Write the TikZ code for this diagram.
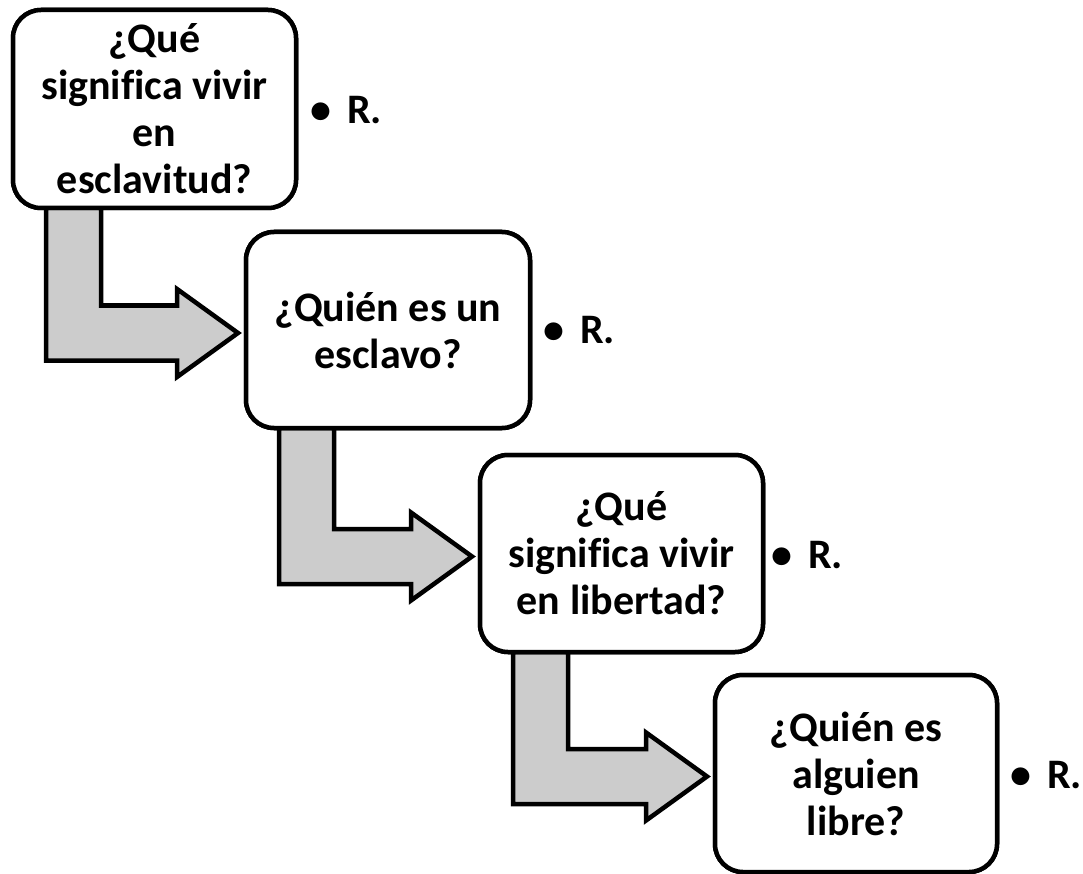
\documentclass[tikz,border=0pt]{standalone}
\usepackage{fontspec}
\setmainfont[Ligatures=NoCommon]{Carlito}
\usetikzlibrary{calc}
\tikzset{
  qbox/.style={draw=black, line width=4.5pt, rounded corners=28pt, fill=white,
    outer sep=0pt, inner sep=0pt, align=center, font=\bfseries\fontsize{42}{47}\selectfont},
  arrowfill/.style={draw=black, fill=black!20, line width=4.5pt, line join=miter},
  rlabel/.style={anchor=west, inner sep=0pt, font=\bfseries\fontsize{42}{47}\selectfont}
}
\newcommand\bentarrow[2]{%
  \path[arrowfill] let \p1=(#1.south west), \p2=(#2.west) in
    (\x1+33pt,\y1) -- (\x1+88pt,\y1) -- (\x1+88pt,\y2+24.5pt)
    -- (\x2-69pt,\y2+24.5pt) -- (\x2-69pt,\y2+41pt) -- (\x2-8pt,\y2-3pt)
    -- (\x2-69pt,\y2-47pt) -- (\x2-69pt,\y2-30.5pt) -- (\x1+33pt,\y2-30.5pt) -- cycle;}
\newcommand\ansR{•\hspace{16pt}R.}
\begin{document}
\begin{tikzpicture}[x=1pt,y=-1pt]
\useasboundingbox[fill=white] (0,0) rectangle (1083,874);
% boxes (placed first, for the arrows' anchors)
\path (154.5,109) node[qbox, minimum width=283pt, minimum height=198pt] (b1) {¿Qué\\significa vivir\\en\\esclavitud?};
\path (388,330) node[qbox, minimum width=284pt, minimum height=196pt] (b2) {¿Quién es un\\esclavo?};
\path (621.5,553.5) node[qbox, minimum width=283pt, minimum height=197pt] (b3) {¿Qué\\significa vivir\\en libertad?};
\path (856,773.5) node[qbox, minimum width=282pt, minimum height=197pt] (b4) {¿Quién es\\alguien\\libre?};
% arrows
\bentarrow{b1}{b2}
\bentarrow{b2}{b3}
\bentarrow{b3}{b4}
% redraw boxes above the arrows
\path (154.5,109) node[qbox, minimum width=283pt, minimum height=198pt] {¿Qué\\significa vivir\\en\\esclavitud?};
\path (388,330) node[qbox, minimum width=284pt, minimum height=196pt] {¿Quién es un\\esclavo?};
\path (621.5,553.5) node[qbox, minimum width=283pt, minimum height=197pt] {¿Qué\\significa vivir\\en libertad?};
\path (856,773.5) node[qbox, minimum width=282pt, minimum height=197pt] {¿Quién es\\alguien\\libre?};
% answers
\node[rlabel] (r1) at (310,110) {\ansR};
\node[rlabel] (r2) at (543,330) {\ansR};
\node[rlabel] (r3) at (771,555) {\ansR};
\node[rlabel] (r4) at (1010,775) {\ansR};
\end{tikzpicture}
\end{document}
